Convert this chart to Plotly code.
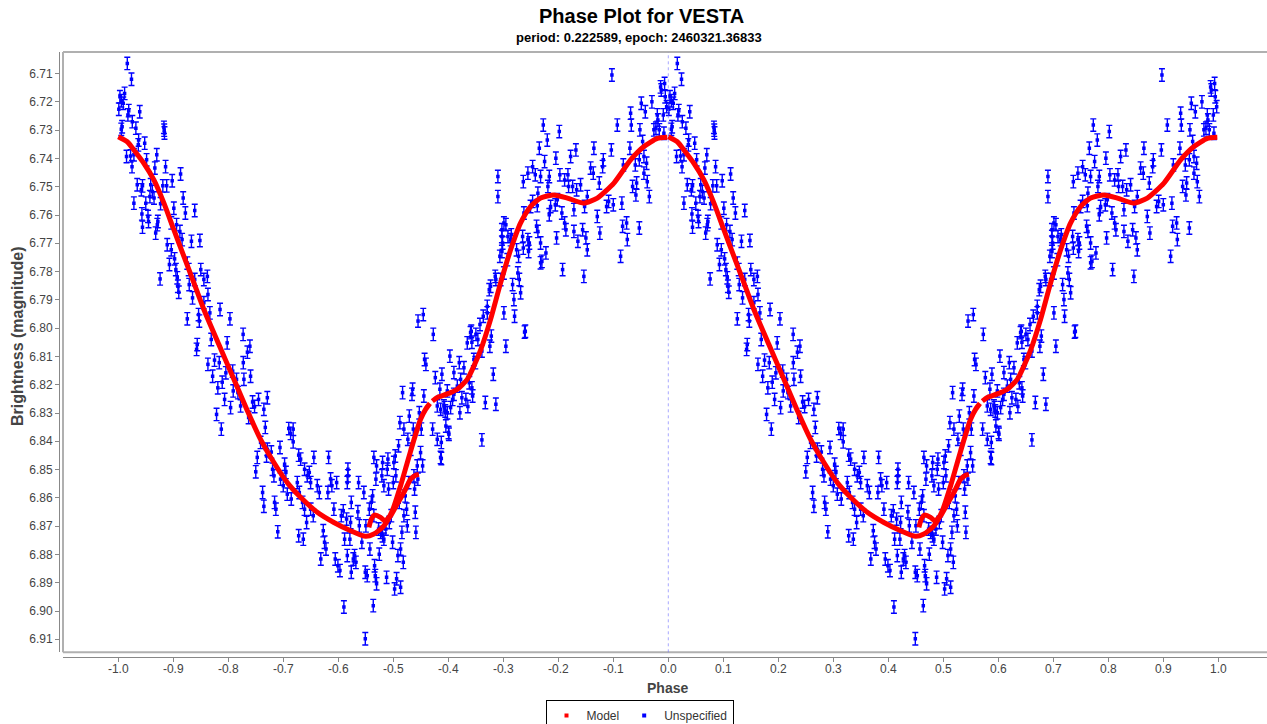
import plotly.graph_objects as go

# ---------------- data (one phase cycle, phases in [-1, 0)) ----------------
obs_phase = [
    -0.9836, -0.9760, -0.9885, -0.9970, -0.9945, -0.9910, -0.9990, -0.9810, -0.9825, -0.9610,
    -0.9745, -0.9680, -0.9930, -0.9945, -0.9170, -0.9165, -0.9160, -0.9630, -0.9636, -0.9520,
    -0.9850, -0.9776, -0.9716, -0.9750, -0.9300, -0.9485, -0.9335, -0.9140, -0.8867, -0.9655,
    -0.9560, -0.9580, -0.9410, -0.9190, -0.9120, -0.9020, -0.9380, -0.9425, -0.9350, -0.9500,
    -0.9716, -0.9231, -0.8820, -0.8990, -0.8610, -0.8780, -0.9570, -0.9460, -0.9450, -0.9280,
    -0.9290, -0.9560, -0.9320, -0.9036, -0.8940, -0.8880, -0.8840, -0.8670, -0.8516, -0.9110,
    -0.9036, -0.8976, -0.9070, -0.8953, -0.8745, -0.8720, -0.8610, -0.8500, -0.8444, -0.8380,
    -0.9240, -0.8927, -0.8916, -0.8900, -0.8710, -0.8650, -0.8444, -0.8370, -0.8540, -0.8527,
    -0.8745, -0.8150, -0.7970, -0.8335, -0.7730, -0.8310, -0.8020, -0.7607, -0.8564, -0.4550,
    -0.4455, -0.4273, -0.8576, -0.7652, -0.8370, -0.8250, -0.8164, -0.8285, -0.8044, -0.8110,
    -0.8190, -0.7920, -0.7850, -0.7727, -0.7716, -0.7595, -0.7910, -0.7825, -0.8067, -0.7958,
    -0.8213, -0.8127, -0.7776, -0.7558, -0.7522, -0.7450, -0.7290, -0.7353, -0.7630, -0.7327,
    -0.7413, -0.7473, -0.7500, -0.7304, -0.7290, -0.7218, -0.7195, -0.7170, -0.7060, -0.7050,
    -0.7000, -0.6976, -0.7376, -0.7353, -0.7158, -0.7135, -0.7100, -0.6900, -0.6867, -0.6820,
    -0.6820, -0.6720, -0.6685, -0.6613, -0.6953, -0.6927, -0.6855, -0.6745, -0.6709, -0.6564,
    -0.6527, -0.6503, -0.6444, -0.6176, -0.6382, -0.6345, -0.6650, -0.6613, -0.6576, -0.6720,
    -0.6636, -0.6503, -0.6455, -0.6273, -0.6250, -0.6224, -0.6318, -0.6140, -0.6117, -0.6080,
    -0.6189, -0.6055, -0.6007, -0.5970, -0.6030, -0.5945, -0.5910, -0.5885, -0.5849, -0.5825,
    -0.5825, -0.5836, -0.5764, -0.5776, -0.5789, -0.5836, -0.5764, -0.5727, -0.5704, -0.5680,
    -0.5898, -0.5631, -0.5644, -0.5618, -0.5571, -0.5535, -0.5498, -0.5509, -0.5473, -0.5425,
    -0.5353, -0.5304, -0.5316, -0.5436, -0.5400, -0.5376, -0.5353, -0.5340, -0.5327, -0.5304,
    -0.5364, -0.5255, -0.5267, -0.5231, -0.5195, -0.5171, -0.5135, -0.5122, -0.5195, -0.5207,
    -0.5171, -0.5109, -0.5098, -0.5086, -0.5073, -0.5036, -0.5013, -0.5000, -0.4989, -0.4964,
    -0.4953, -0.4940, -0.4976, -0.4867, -0.4916, -0.4891, -0.4867, -0.4904, -0.4880, -0.4831,
    -0.4807, -0.4818, -0.4843, -0.4807, -0.4782, -0.4758, -0.4745, -0.4735, -0.4722, -0.4709,
    -0.4685, -0.4649, -0.4660, -0.4636, -0.4625, -0.4613, -0.4600, -0.4589, -0.4564, -0.4553,
    -0.4527, -0.4504, -0.4491, -0.4467, -0.4444, -0.4431, -0.4407, -0.4236, -0.4116, -0.4153,
    -0.4200, -0.4139, -0.4067, -0.4018, -0.4285, -0.4200, -0.4127, -0.4140, -0.3995, -0.5509,
    -0.3971, -0.3655, -0.3595, -0.3571, -0.3498, -0.3462, -0.3535, -0.3509, -0.3389, -0.3244,
    -0.3218, -0.2953, -0.2613, -0.3898, -0.3800, -0.3716, -0.3776, -0.3618, -0.3571, -0.3558,
    -0.3836, -0.4018, -0.3898, -0.3922, -0.3753, -0.3680, -0.3644, -0.3958, -0.4080, -0.4055,
    -0.3789, -0.4044, -0.3989, -0.4127, -0.3389, -0.3327, -0.3182, -0.3135, -0.3424, -0.3364,
    -0.3291, -0.2989, -0.2807, -0.2795, -0.2600, -0.2685, -0.2709, -0.2831, -0.3255, -0.3135,
    -0.3049, -0.2989, -0.2927, -0.3062, -0.3025, -0.3013, -0.2916, -0.2867, -0.2855, -0.2758,
    -0.2722, -0.2735, -0.2636, -0.2540, -0.2527, -0.3025, -0.2953, -0.2649, -0.2553, -0.2371,
    -0.2395, -0.2322, -0.2298, -0.2225, -0.1922, -0.1535, -0.0867, -0.0527, -0.0345, -0.2625,
    -0.2504, -0.2467, -0.2382, -0.2371, -0.2322, -0.2345, -0.2273, -0.2467, -0.2553, -0.2636,
    -0.2418, -0.2249, -0.2200, -0.2164, -0.2189, -0.2140, -0.2055, -0.2164, -0.2044, -0.1982,
    -0.1971, -0.1885, -0.1825, -0.1813, -0.2018, -0.1935, -0.1885, -0.1862, -0.2031, -0.1776,
    -0.1680, -0.1740, -0.1667, -0.1595, -0.1716, -0.1716, -0.1644, -0.1558, -0.1498, -0.1473,
    -0.1522, -0.1473, -0.1413, -0.1353, -0.1364, -0.1255, -0.1244, -0.1291, -0.1182, -0.1194,
    -0.1122, -0.1085, -0.1036, -0.1000, -0.1025, -0.0927, -0.0818, -0.0844, -0.0831, -0.0758,
    -0.0745, -0.0685, -0.0673, -0.0698, -0.0649, -0.0589, -0.0600, -0.0576, -0.0516, -0.0527,
    -0.0491, -0.0467, -0.0443, -0.0443, -0.0418, -0.0395, -0.0382, -0.0298, -0.0262, -0.0225,
    -0.0200, -0.0189, -0.0164, -0.0140, -0.0127, -0.0091, -0.0067, -0.0055, -0.0030, -0.0080,
    -0.3098, -0.3098, -0.2989, -0.3231, -0.3582, -0.3291, -0.3146, -0.3025, -0.2322,
]
obs_mag = [
    6.7064, 6.7120, 6.7170, 6.7182, 6.7196, 6.7205, 6.7226, 6.7231, 6.7246, 6.7235,
    6.7270, 6.7293, 6.7288, 6.7297, 6.7290, 6.7300, 6.7310, 6.7335, 6.7352, 6.7346,
    6.7393, 6.7391, 6.7387, 6.7429, 6.7387, 6.7405, 6.7434, 6.7429, 6.7455, 6.7493,
    6.7497, 6.7511, 6.7493, 6.7497, 6.7497, 6.7479, 6.7517, 6.7535, 6.7540, 6.7558,
    6.7558, 6.7560, 6.7540, 6.7576, 6.7584, 6.7593, 6.7596, 6.7605, 6.7623, 6.7623,
    6.7634, 6.7643, 6.7664, 6.7628, 6.7634, 6.7658, 6.7687, 6.7693, 6.7690, 6.7705,
    6.7723, 6.7755, 6.7775, 6.7793, 6.7770, 6.7793, 6.7828, 6.7793, 6.7828, 6.7817,
    6.7826, 6.7822, 6.7852, 6.7873, 6.7846, 6.7893, 6.7910, 6.7881, 6.7952, 6.7975,
    6.7967, 6.7934, 6.7967, 6.7946, 6.8022, 6.8040, 6.8052, 6.8064, 6.8058, 6.7975,
    6.7952, 6.8022, 6.8075, 6.8085, 6.8128, 6.8113, 6.8122, 6.8170, 6.8158, 6.8191,
    6.8211, 6.8152, 6.8181, 6.8122, 6.8181, 6.8170, 6.8222, 6.8228, 6.8252, 6.8281,
    6.8305, 6.8357, 6.8275, 6.8261, 6.8277, 6.8252, 6.8246, 6.8287, 6.8316, 6.8351,
    6.8404, 6.8457, 6.8508, 6.8452, 6.8428, 6.8438, 6.8499, 6.8522, 6.8422, 6.8534,
    6.8557, 6.8481, 6.8581, 6.8630, 6.8616, 6.8640, 6.8720, 6.8355, 6.8372, 6.8357,
    6.8402, 6.8449, 6.8463, 6.8499, 6.8510, 6.8587, 6.8604, 6.8546, 6.8581, 6.8522,
    6.8510, 6.8546, 6.8457, 6.8457, 6.8557, 6.8581, 6.8616, 6.8640, 6.8687, 6.8734,
    6.8746, 6.8640, 6.8663, 6.8716, 6.8757, 6.8781, 6.8816, 6.8533, 6.8557, 6.8640,
    6.8581, 6.8816, 6.8840, 6.8857, 6.8546, 6.8663, 6.8646, 6.8746, 6.8675, 6.8499,
    6.8522, 6.8546, 6.8616, 6.8687, 6.8746, 6.8804, 6.8863, 6.8816, 6.8804, 6.8828,
    6.8986, 6.8546, 6.8649, 6.8699, 6.8757, 6.8581, 6.8699, 6.8863, 6.8875, 6.8781,
    6.8457, 6.8487, 6.8534, 6.8640, 6.8616, 6.8593, 6.8663, 6.8840, 6.8875, 6.8904,
    6.8981, 6.8799, 6.8710, 6.8722, 6.8734, 6.8746, 6.8710, 6.8881, 6.8475, 6.8522,
    6.8557, 6.8499, 6.8463, 6.8569, 6.8687, 6.8663, 6.8757, 6.8546, 6.8475, 6.8452,
    6.8522, 6.8886, 6.8922, 6.8916, 6.8804, 6.8616, 6.8781, 6.8416, 6.8334, 6.8228,
    6.8357, 6.8828, 6.8722, 6.8663, 6.8593, 6.8640, 6.8699, 6.8393, 6.8546, 6.8311,
    6.8428, 6.8216, 6.8234, 6.8357, 6.8522, 6.8569, 6.8651, 6.8722, 6.8487, 6.8534,
    6.8299, 6.8440, 6.8357, 6.8487, 6.8240, 6.8111, 6.8128, 6.8175, 6.8163, 6.8216,
    6.8275, 6.8287, 6.8281, 6.8299, 6.8357, 6.8393, 6.8404, 6.8457, 6.8369, 6.9098,
    6.8099, 6.8052, 6.8016, 6.8050, 6.8022, 6.8040, 6.8111, 6.8122, 6.8081, 6.8064,
    6.8028, 6.8064, 6.8014, 6.8157, 6.8122, 6.8140, 6.8181, 6.8193, 6.8211, 6.8240,
    6.8205, 6.8222, 6.8234, 6.8252, 6.8246, 6.8252, 6.8277, 6.8281, 6.8275, 6.8293,
    6.8299, 6.8346, 6.8375, 6.8461, 6.8395, 6.8263, 6.8163, 6.8269, 6.7987, 6.7958,
    6.7946, 6.7946, 6.7899, 6.7958, 6.8011, 6.7875, 6.7828, 6.7846, 6.7864, 6.7828,
    6.7828, 6.7805, 6.7758, 6.7746, 6.7729, 6.7699, 6.7676, 6.7687, 6.7670, 6.7723,
    6.7746, 6.7805, 6.7717, 6.7729, 6.7699, 6.7652, 6.7634, 6.7676, 6.7687, 6.7658,
    6.7640, 6.7699, 6.7764, 6.7734, 6.7793, 6.7817, 6.7746, 6.7646, 6.7535, 6.7593,
    6.7570, 6.7552, 6.7567, 6.7523, 6.7464, 6.7364, 6.7282, 6.7429, 6.7452, 6.7482,
    6.7458, 6.7411, 6.7335, 6.7464, 6.7499, 6.7570, 6.7564, 6.7599, 6.7399, 6.7305,
    6.7458, 6.7476, 6.7458, 6.7499, 6.7546, 6.7593, 6.7628, 6.7652, 6.7681, 6.7393,
    6.7370, 6.7499, 6.7511, 6.7493, 6.7581, 6.7658, 6.7693, 6.7652, 6.7681, 6.7723,
    6.7570, 6.7535, 6.7434, 6.7364, 6.7452, 6.7487, 6.7664, 6.7605, 6.7405, 6.7429,
    6.7570, 6.7552, 6.7370, 6.7564, 6.7105, 6.7282, 6.7423, 6.7558, 6.7640, 6.7628,
    6.7687, 6.7240, 6.7282, 6.7364, 6.7499, 6.7529, 6.7423, 6.7487, 6.7299, 6.7405,
    6.7205, 6.7340, 6.7393, 6.7452, 6.7235, 6.7417, 6.7482, 6.7200, 6.7299, 6.7293,
    6.7246, 6.7264, 6.7299, 6.7147, 6.7158, 6.7246, 6.7135, 6.7182, 6.7217, 6.7311,
    6.7464, 6.7535, 6.7628, 6.7852, 6.8011, 6.7923, 6.7817, 6.7676, 6.7769,
]
obs_error = 0.0022

# model curve (three pieces, phases in [-1, 0))
model_a_phase = [-1.0000, -0.9836, -0.9716, -0.9535, -0.9353, -0.9170, -0.8990, -0.8807, -0.8625,
                 -0.8444, -0.8171, -0.7898, -0.7655, -0.7413, -0.7171, -0.6927, -0.6685, -0.6382,
                 -0.6080, -0.5776, -0.5504, -0.5353, -0.5171, -0.5018, -0.4867, -0.4745, -0.4622,
                 -0.4504, -0.4413, -0.4334]
model_a_mag = [6.7323, 6.7341, 6.7370, 6.7417, 6.7476, 6.7558, 6.7652, 6.7746, 6.7840,
               6.7934, 6.8058, 6.8181, 6.8291, 6.8393, 6.8475, 6.8546, 6.8598, 6.8651,
               6.8687, 6.8716, 6.8736, 6.8728, 6.8699, 6.8646, 6.8557, 6.8475, 6.8393,
               6.8322, 6.8287, 6.8266]
model_b_phase = [-0.4290, -0.4200, -0.4127, -0.3958, -0.3836, -0.3655, -0.3535, -0.3413, -0.3231,
                 -0.3049, -0.2867, -0.2685, -0.2504, -0.2322, -0.2080, -0.1836, -0.1535, -0.1291,
                 -0.0989, -0.0685, -0.0443, -0.0200, -0.0018]
model_b_mag = [6.8258, 6.8245, 6.8240, 6.8228, 6.8216, 6.8181, 6.8134, 6.8078, 6.7969,
               6.7840, 6.7723, 6.7628, 6.7570, 6.7540, 6.7529, 6.7540, 6.7558, 6.7540,
               6.7487, 6.7405, 6.7358, 6.7329, 6.7325]
model_c_phase = [-0.5444, -0.5400, -0.5340, -0.5231, -0.5158, -0.5049, -0.4927, -0.4807, -0.4685,
                 -0.4594, -0.4534]
model_c_mag = [6.8704, 6.8675, 6.8661, 6.8669, 6.8681, 6.8663, 6.8621, 6.8581, 6.8534,
               6.8520, 6.8517]

x_ticks = [-1.0, -0.9, -0.8, -0.7, -0.6, -0.5, -0.4, -0.3, -0.2, -0.1, 0.0,
           0.1, 0.2, 0.3, 0.4, 0.5, 0.6, 0.7, 0.8, 0.9, 1.0]
x_tick_labels = ["-1.0", "-0.9", "-0.8", "-0.7", "-0.6", "-0.5", "-0.4", "-0.3", "-0.2", "-0.1", "0.0",
                 "0.1", "0.2", "0.3", "0.4", "0.5", "0.6", "0.7", "0.8", "0.9", "1.0"]
y_ticks = [6.71, 6.72, 6.73, 6.74, 6.75, 6.76, 6.77, 6.78, 6.79, 6.80, 6.81,
           6.82, 6.83, 6.84, 6.85, 6.86, 6.87, 6.88, 6.89, 6.90, 6.91]
y_tick_labels = ["6.71", "6.72", "6.73", "6.74", "6.75", "6.76", "6.77", "6.78", "6.79", "6.80", "6.81",
                 "6.82", "6.83", "6.84", "6.85", "6.86", "6.87", "6.88", "6.89", "6.90", "6.91"]

# ---------------- build the two displayed cycles ----------------
xs = list(obs_phase) + [p + 1 for p in obs_phase]
ys = list(obs_mag) + list(obs_mag)

mx, my = [], []
for shift in (0.0, 1.0):
    for ph, mg in ((model_a_phase, model_a_mag), (model_b_phase, model_b_mag), (model_c_phase, model_c_mag)):
        mx += [p + shift for p in ph] + [None]
        my += list(mg) + [None]

FONT = "Liberation Sans, Arial, sans-serif"
W, H = 1267, 724
ML, MR, MT, MB = 59, 0, 52, 67
PW, PH = W - ML - MR, H - MT - MB
x_dom0 = 4 / PW
y_dom0 = 4.7 / PH


def px(p):
    return (p - ML) / PW


def py(p):
    return (H - MB - p) / PH


fig = go.Figure()
fig.add_trace(go.Scatter(x=[None], y=[None], mode="markers", name="Model",
                         marker=dict(symbol="square", size=4, color="#ff0000")))
fig.add_trace(go.Scatter(x=[None], y=[None], mode="markers", name="Unspecified",
                         marker=dict(symbol="square", size=4, color="#0000ff")))
fig.add_trace(go.Scatter(
    x=xs, y=ys, mode="markers", showlegend=False, hoverinfo="skip",
    marker=dict(symbol="square", size=3.5, color="#0000ff"),
    error_y=dict(type="constant", value=obs_error, color="#0000ff", thickness=1.4, width=3),
))
fig.add_trace(go.Scatter(
    x=mx, y=my, mode="lines", showlegend=False, hoverinfo="skip", connectgaps=False,
    line=dict(color="#ff0000", width=5, shape="spline", smoothing=0.6),
))

axis_common = dict(
    ticks="outside", ticklen=4, tickwidth=1, tickcolor="#888888",
    showline=True, linecolor="#888888", linewidth=1,
    showgrid=False, zeroline=False,
    tickfont=dict(family=FONT, size=12, color="#444444"),
    anchor="free", position=0,
)
fig.update_layout(
    width=W, height=H,
    margin=dict(l=ML, r=MR, t=MT, b=MB, pad=0, autoexpand=False),
    paper_bgcolor="white", plot_bgcolor="white",
    xaxis=dict(domain=[x_dom0, 1], range=[-1.1005, 1.0885], ticklabelstandoff=-3,
               tickmode="array", tickvals=x_ticks, ticktext=x_tick_labels, **axis_common),
    yaxis=dict(domain=[y_dom0, 1], range=[6.9146, 6.70237],
               tickmode="array", tickvals=y_ticks, ticktext=y_tick_labels, **axis_common),
    showlegend=True,
    legend=dict(orientation="h", x=px(639.5), xanchor="center", y=py(700), yanchor="top",
                bordercolor="#000000", borderwidth=1, bgcolor="white",
                font=dict(family=FONT, size=12, color="#333333"), itemwidth=30),
    shapes=[
        dict(type="line", xref="paper", yref="paper", x0=x_dom0, x1=1, y0=1, y1=1,
             line=dict(color="#b0b0b0", width=2)),
        dict(type="line", xref="paper", yref="paper", x0=x_dom0, x1=x_dom0, y0=y_dom0, y1=1,
             line=dict(color="#b0b0b0", width=2)),
        dict(type="line", xref="paper", yref="paper", x0=x_dom0, x1=1, y0=y_dom0, y1=y_dom0,
             line=dict(color="#b0b0b0", width=2)),
        dict(type="line", xref="x", yref="paper", x0=0, x1=0, y0=y_dom0, y1=1,
             line=dict(color="rgba(110,110,255,0.6)", width=1, dash="dot")),
    ],
    annotations=[
        dict(text="<b>Phase Plot for VESTA</b>", xref="paper", yref="paper", x=px(641.5), y=py(16),
             xanchor="center", yanchor="middle", showarrow=False,
             font=dict(family=FONT, size=20, color="#000000")),
        dict(text="<b>period: 0.222589, epoch: 2460321.36833</b>", xref="paper", yref="paper",
             x=px(639), y=py(37.5), xanchor="center", yanchor="middle", showarrow=False,
             font=dict(family=FONT, size=13, color="#000000")),
        dict(text="<b>Phase</b>", xref="paper", yref="paper", x=px(667), y=py(688),
             xanchor="center", yanchor="middle", showarrow=False,
             font=dict(family=FONT, size=14, color="#444444")),
        dict(text="<b>Brightness (magnitude)</b>", xref="paper", yref="paper", x=px(17), y=py(336),
             xanchor="center", yanchor="middle", showarrow=False, textangle=-90,
             font=dict(family=FONT, size=16, color="#444444")),
    ],
)

fig.write_html("out.html", config={"displayModeBar": False},
               post_script="document.body.style.margin='0';document.body.style.overflow='hidden';")
